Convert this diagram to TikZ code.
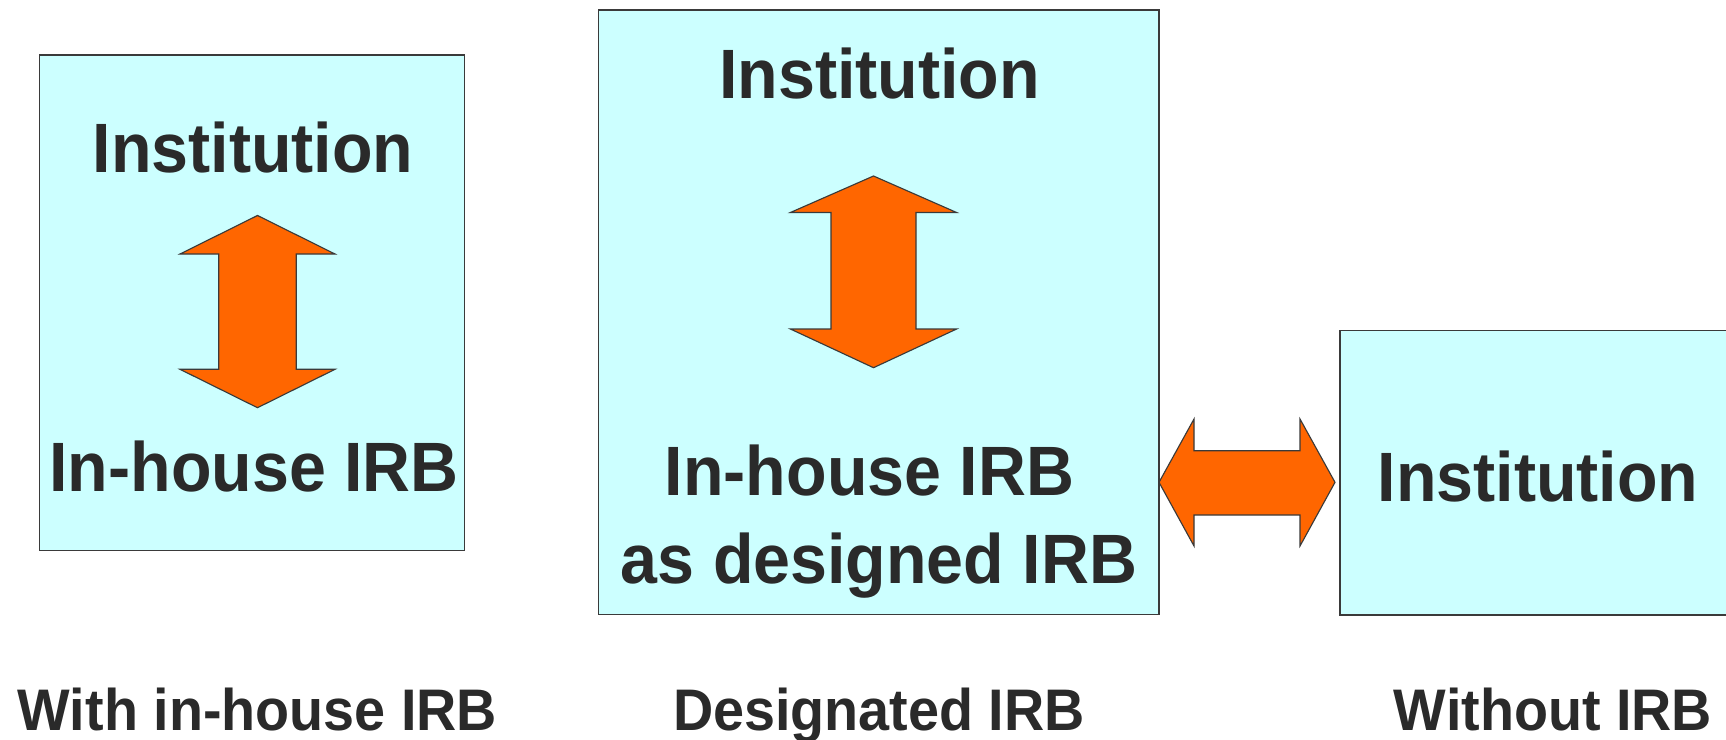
\documentclass[tikz,border=0pt]{standalone}
\usepackage{fontspec}
\setmainfont{Liberation Sans}[FakeStretch=0.95]
\definecolor{boxfill}{HTML}{CCFFFF}
\definecolor{arrowfill}{HTML}{FF6600}
\definecolor{ink}{HTML}{2A2A2A}
\definecolor{edge}{HTML}{3A3A3A}
\begin{document}
\begin{tikzpicture}[x=0.75pt,y=-0.75pt,
  panel/.style={draw=edge, line width=1pt, fill=boxfill},
  blockarrow/.style={draw=edge, line width=0.85pt, fill=arrowfill, line join=miter},
  big/.style={font=\bfseries\fontsize{52.4}{60}\selectfont, text=ink, inner sep=0pt, anchor=base},
  caption/.style={font=\bfseries\fontsize{44}{50}\selectfont, text=ink, inner sep=0pt, anchor=base}]
\useasboundingbox (0,0) rectangle (1726,739);
\clip (0,0) rectangle (1726,739);
% panels
\path[panel] (39.6,55) rectangle (464.5,550.4);
\path[panel] (598.8,9.9) rectangle (1159.1,614.2);
\path[panel] (1340,330.5) rectangle (1780,615);
% vertical arrows
\path[blockarrow] (257.5,215.5) -- (335,254) -- (296.2,254) -- (296.2,369.3) -- (335,369.3)
  -- (257.5,407.7) -- (180,369.3) -- (218.8,369.3) -- (218.8,254) -- (180,254) -- cycle;
\path[blockarrow] (873.5,176) -- (956.6,212.5) -- (916,212.5) -- (916,329) -- (956.6,329)
  -- (873.5,367.7) -- (790.4,329) -- (831,329) -- (831,212.5) -- (790.4,212.5) -- cycle;
% horizontal double arrow
\path[blockarrow] (1159,482.3) -- (1194,419) -- (1194,450.7) -- (1300,450.7) -- (1300,419)
  -- (1335,482.3) -- (1300,546) -- (1300,515) -- (1194,515) -- (1194,546) -- cycle;
% texts
\node[big] (linst) at (253,172) {Institution};
\node[big] (lirb) at (254,491.7) {In-house IRB};
\node[big] (minst) at (879.5,98) {Institution};
\node[big] (mirb1) at (869.5,495) {In-house IRB};
\node[big] (mirb2) at (879,583) {as designed IRB};
\node[big] (rinst) at (1538,501.7) {Institution};
\node[caption] (capl) at (257.5,730) {With in-house IRB};
\node[caption] (capm) at (879,730) {Designated IRB};
\node[caption] (capr) at (1553,730) {Without IRB};
\end{tikzpicture}
\end{document}
